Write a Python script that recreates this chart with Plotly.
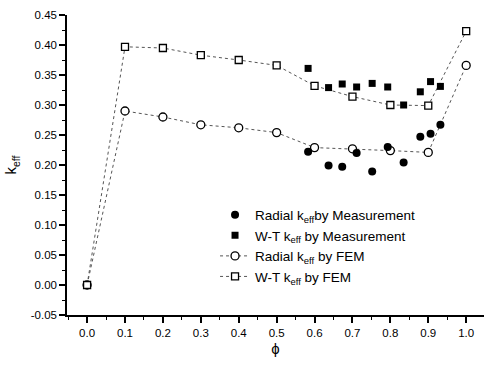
import plotly.graph_objects as go

# FEM data
phi_fem = [0.0, 0.1, 0.2, 0.3, 0.4, 0.5, 0.6, 0.7, 0.8, 0.9, 1.0]
radial_fem = [0.0, 0.290, 0.280, 0.267, 0.262, 0.254, 0.229, 0.227, 0.224, 0.221, 0.366]
wt_fem = [0.0, 0.397, 0.395, 0.383, 0.375, 0.366, 0.332, 0.314, 0.300, 0.299, 0.423]

# Measurement data
phi_meas = [0.583, 0.637, 0.673, 0.711, 0.752, 0.793, 0.835, 0.879, 0.906, 0.932]
radial_meas = [0.222, 0.199, 0.197, 0.220, 0.189, 0.230, 0.204, 0.247, 0.252, 0.267]
wt_meas = [0.361, 0.329, 0.335, 0.330, 0.336, 0.330, 0.300, 0.322, 0.339, 0.331]

x_ticks = [0.0, 0.1, 0.2, 0.3, 0.4, 0.5, 0.6, 0.7, 0.8, 0.9, 1.0]
x_tick_labels = ["0.0", "0.1", "0.2", "0.3", "0.4", "0.5", "0.6", "0.7", "0.8", "0.9", "1.0"]
y_ticks = [-0.05, 0.0, 0.05, 0.10, 0.15, 0.20, 0.25, 0.30, 0.35, 0.40, 0.45]
y_tick_labels = ["-0.05", "0.00", "0.05", "0.10", "0.15", "0.20", "0.25", "0.30", "0.35", "0.40", "0.45"]

FONT = "Liberation Sans, Arial, sans-serif"
line_style = dict(color="#555555", width=1, dash="dot")

fig = go.Figure()
fig.add_trace(go.Scatter(
    x=phi_fem, y=radial_fem, mode="lines+markers",
    name="Radial k<sub>eff</sub> by FEM", legendrank=3,
    line=line_style,
    marker=dict(symbol="circle", size=8, color="white", line=dict(color="black", width=1.3)),
))
fig.add_trace(go.Scatter(
    x=phi_fem, y=wt_fem, mode="lines+markers",
    name="W-T k<sub>eff</sub> by FEM", legendrank=4,
    line=line_style,
    marker=dict(symbol="square", size=7, color="white", line=dict(color="black", width=1.3)),
))
fig.add_trace(go.Scatter(
    x=phi_meas, y=radial_meas, mode="markers",
    name="Radial k<sub>eff</sub>by Measurement", legendrank=1,
    marker=dict(symbol="circle", size=8, color="black"),
))
fig.add_trace(go.Scatter(
    x=phi_meas, y=wt_meas, mode="markers",
    name="W-T k<sub>eff</sub> by Measurement", legendrank=2,
    marker=dict(symbol="square", size=7, color="black"),
))

fig.update_layout(
    width=484, height=367,
    margin=dict(l=67, r=0, t=15, b=52),
    paper_bgcolor="white", plot_bgcolor="white",
    font=dict(family=FONT, size=11, color="black"),
    showlegend=True,
    legend=dict(
        x=0.355, y=0.385, xanchor="left", yanchor="top",
        bgcolor="rgba(0,0,0,0)", font=dict(size=13.5, family=FONT),
        itemwidth=30, tracegroupgap=0,
    ),
    xaxis=dict(
        range=[-0.053, 1.047], tickmode="array", tickvals=x_ticks, ticktext=x_tick_labels,
        showgrid=False, zeroline=False, showline=True, linecolor="black", linewidth=1.5,
        ticks="outside", ticklen=6, tickwidth=1.5, tickcolor="black",
        minor=dict(dtick=0.05, ticks="outside", ticklen=3, tickwidth=1, tickcolor="black"),
        title=dict(text="ϕ", font=dict(size=15), standoff=6),
        tickfont=dict(size=11.5), automargin=False,
    ),
    yaxis=dict(
        range=[-0.05, 0.45], tickmode="array", tickvals=y_ticks, ticktext=y_tick_labels,
        showgrid=False, zeroline=False, showline=True, linecolor="black", linewidth=1.5,
        ticks="outside", ticklen=6, tickwidth=1.5, tickcolor="black",
        minor=dict(dtick=0.025, tick0=0, ticks="outside", ticklen=3, tickwidth=1, tickcolor="black"),
        title=dict(text="k<sub>eff</sub>", font=dict(size=15), standoff=10),
        tickfont=dict(size=11.5), automargin=False,
    ),
)

fig.write_html("out.html", config={"displayModeBar": False},
               post_script="document.body.style.margin='0px';")
